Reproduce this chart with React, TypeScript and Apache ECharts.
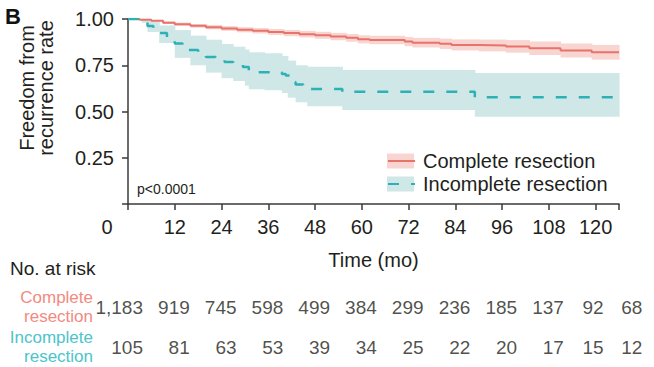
import React, { useEffect, useRef } from 'react';
import * as echarts from 'echarts';

// ---- data ----
const completeTimes = [0, 3, 6, 9, 12, 16, 20, 24, 28, 32, 36, 40, 44, 48, 52, 56, 59, 62, 71, 73, 80, 83, 90, 97, 103, 111, 119, 126];
const completeSurv = [1, 0.996, 0.99, 0.98, 0.972, 0.963, 0.956, 0.949, 0.942, 0.936, 0.93, 0.924, 0.918, 0.912, 0.905, 0.898, 0.89, 0.886, 0.878, 0.872, 0.866, 0.86, 0.857, 0.852, 0.842, 0.83, 0.82, 0.82];
const completeLower = [1, 0.993, 0.985, 0.973, 0.963, 0.953, 0.944, 0.936, 0.928, 0.921, 0.914, 0.907, 0.9, 0.893, 0.885, 0.877, 0.868, 0.863, 0.853, 0.846, 0.838, 0.83, 0.825, 0.818, 0.806, 0.792, 0.78, 0.78];
const completeUpper = [1, 0.999, 0.995, 0.987, 0.981, 0.973, 0.968, 0.962, 0.956, 0.951, 0.946, 0.941, 0.936, 0.931, 0.925, 0.919, 0.912, 0.909, 0.903, 0.898, 0.894, 0.89, 0.889, 0.886, 0.878, 0.868, 0.86, 0.86];

const incompleteTimes = [0, 3.5, 5, 6.5, 8, 10, 12, 14, 15.6, 18, 20, 22.5, 24.8, 27, 29.5, 31, 39.5, 40.5, 41.8, 43, 45, 46, 55, 89, 126];
const incompleteSurv = [1, 0.99, 0.962, 0.943, 0.924, 0.895, 0.868, 0.85, 0.832, 0.812, 0.795, 0.78, 0.767, 0.755, 0.74, 0.712, 0.703, 0.695, 0.66, 0.646, 0.632, 0.622, 0.607, 0.577, 0.577];
const incompleteBandTimes = [0, 3.5, 5, 8, 12, 16, 20, 24, 27, 30, 31, 35, 39.5, 41, 43, 46, 55, 89, 126];
const incompleteUpper = [1, 1, 0.99, 0.965, 0.94, 0.91, 0.888, 0.865, 0.85, 0.835, 0.82, 0.815, 0.8, 0.775, 0.75, 0.742, 0.724, 0.708, 0.708];
const incompleteLower = [1, 0.98, 0.93, 0.87, 0.79, 0.75, 0.71, 0.68, 0.665, 0.64, 0.62, 0.615, 0.6, 0.575, 0.55, 0.528, 0.508, 0.472, 0.472];

const groupNames = ['Complete resection', 'Incomplete resection'];
const riskTimes = [0, 12, 24, 36, 48, 60, 72, 84, 96, 108, 120, 132];
const riskComplete = [1183, 919, 745, 598, 499, 384, 299, 236, 185, 137, 92, 68];
const riskIncomplete = [105, 81, 63, 53, 39, 34, 25, 22, 20, 17, 15, 12];

// ---- layout / style ----
const riskNudge = [15, 15, 15, 15, 15, 15, 15, 15, 15, 15, 8, 0];
const FONT = '"Liberation Sans", Arial, Helvetica, sans-serif';
const TEXT = '#231f20';
const AXIS = '#3a3a3a';
const RED = '#e8736b';
const RED_BAND = '#f9d5d1';
const TEAL = '#2eb1b5';
const TEAL_BAND = '#cfe7e6';
const RED_LABEL = '#f28a82';
const TEAL_LABEL = '#4cc4cb';

function bandData(times: number[], lo: number[], hi: number[]) {
  const out: number[][] = [];
  for (let i = 0; i < times.length - 1; i++) out.push([times[i], times[i + 1], lo[i], hi[i]]);
  return out;
}

const renderBand = (color: string) => (_params: any, api: any) => {
  const p1 = api.coord([api.value(0), api.value(3)]);
  const p2 = api.coord([api.value(1), api.value(2)]);
  return {
    type: 'rect',
    shape: { x: p1[0], y: p1[1], width: p2[0] - p1[0] + 0.6, height: Math.max(0, p2[1] - p1[1]) },
    style: { fill: color },
  };
};

function riskSeries(values: number[], row: number) {
  return {
    type: 'scatter',
    xAxisIndex: 1,
    yAxisIndex: 1,
    symbolSize: 2,
    itemStyle: { color: 'rgba(255,255,255,0)' },
    clip: false,
    silent: true,
    z: 5,
    data: riskTimes.map((t, i) => ({ value: [t, row], label: { offset: [riskNudge[i], 0] } })),
    label: {
      show: true,
      position: 'inside',
      align: 'right',
      verticalAlign: 'middle',
      fontFamily: FONT,
      fontSize: 19,
      color: TEXT,
      formatter: (p: any) => values[p.dataIndex].toLocaleString('en-US'),
    },
  };
}

export default function App() {
  const ref = useRef<HTMLDivElement>(null);
  useEffect(() => {
    document.body.style.margin = '0';
    const chart = echarts.init(ref.current!, null, { renderer: 'svg' });
    const axisLineStyle = { color: AXIS, width: 1.5 };
    chart.setOption({
      animation: false,
      backgroundColor: '#ffffff',
      textStyle: { fontFamily: FONT },
      grid: [
        { left: 128, top: 19, width: 491, height: 185 },
        { left: 128, top: 287, width: 491, height: 83 },
      ],
      xAxis: [
        {
          type: 'value',
          gridIndex: 0,
          min: 0,
          max: 126,
          interval: 12,
          splitLine: { show: false },
          axisLine: { lineStyle: axisLineStyle },
          axisTick: { length: 6, lineStyle: axisLineStyle },
          axisLabel: {
            fontFamily: FONT,
            fontSize: 20,
            color: TEXT,
            margin: 13,
            formatter: (v: number) => (v === 0 ? '{z|0}' : v > 120 ? '' : String(v)),
            rich: { z: { padding: [0, 42, 0, 0], fontFamily: FONT, fontSize: 20, color: TEXT } },
          },
          name: 'Time (mo)',
          nameLocation: 'middle',
          nameGap: 46,
          nameTextStyle: { fontFamily: FONT, fontSize: 20, color: TEXT },
        },
        { type: 'value', gridIndex: 1, min: 0, max: 126, show: false },
      ],
      yAxis: [
        {
          type: 'value',
          gridIndex: 0,
          min: 0,
          max: 1,
          interval: 0.25,
          splitLine: { show: false },
          axisLine: { show: true, lineStyle: axisLineStyle },
          axisTick: { show: true, length: 6, lineStyle: axisLineStyle },
          axisLabel: {
            fontFamily: FONT,
            fontSize: 20,
            color: TEXT,
            margin: 14,
            formatter: (v: number) => (v === 0 ? '' : v.toFixed(2)),
          },
        },
        {
          type: 'category',
          gridIndex: 1,
          inverse: true,
          data: groupNames,
          axisLine: { show: false },
          axisTick: { show: false },
          axisLabel: {
            margin: 35,
            formatter: (_v: string, i: number) =>
              i === 0 ? '{a|Complete}\n{a|resection}' : '{b|Incomplete}\n{b|resection}',
            rich: {
              a: { color: RED_LABEL, fontFamily: FONT, fontSize: 17, lineHeight: 19.6, align: 'right' },
              b: { color: TEAL_LABEL, fontFamily: FONT, fontSize: 17, lineHeight: 19.6, align: 'right' },
            },
          },
        },
      ],
      legend: [
        {
          data: [
            { name: 'Complete resection band', icon: 'rect' },
            { name: 'Incomplete resection band', icon: 'rect' },
          ],
          orient: 'vertical',
          left: 387,
          top: 151,
          itemWidth: 27,
          itemHeight: 15,
          itemGap: 3,
          padding: 0,
          selectedMode: false,
          formatter: () => ' ',
          textStyle: { fontFamily: FONT, fontSize: 20, color: TEXT },
          z: 3,
        },
        {
          data: groupNames,
          orient: 'vertical',
          left: 387,
          top: 151,
          itemWidth: 27,
          itemHeight: 15,
          itemGap: 3,
          padding: 0,
          selectedMode: false,
          itemStyle: { opacity: 0 },
          textStyle: { fontFamily: FONT, fontSize: 20, color: TEXT, padding: [0, 0, 0, 3] },
          z: 5,
        },
      ],
      graphic: [
        { type: 'text', left: 5, top: 5, style: { text: 'B', font: `bold 22px ${FONT}`, fill: '#111' } },
        {
          type: 'text',
          x: 36,
          y: 88,
          rotation: Math.PI / 2,
          style: {
            text: 'Freedom from\nrecurrence rate',
            font: `20px ${FONT}`,
            lineHeight: 19,
            fill: TEXT,
            align: 'center',
            verticalAlign: 'middle',
          },
        },
        { type: 'text', x: 137, y: 189, style: { text: 'p<0.0001', font: `14px ${FONT}`, fill: TEXT, verticalAlign: 'middle' } },
        { type: 'text', x: 10, y: 268, style: { text: 'No. at risk', font: `19px ${FONT}`, fill: TEXT, verticalAlign: 'middle' } },
      ],
      series: [
        {
          name: 'Complete resection band',
          type: 'custom',
          xAxisIndex: 0,
          yAxisIndex: 0,
          silent: true,
          z: 1,
          itemStyle: { color: RED_BAND },
          renderItem: renderBand(RED_BAND),
          encode: { x: [0, 1], y: [2, 3] },
          data: bandData(completeTimes, completeLower, completeUpper),
        },
        {
          name: 'Incomplete resection band',
          type: 'custom',
          xAxisIndex: 0,
          yAxisIndex: 0,
          silent: true,
          z: 1,
          itemStyle: { color: TEAL_BAND },
          renderItem: renderBand(TEAL_BAND),
          encode: { x: [0, 1], y: [2, 3] },
          data: bandData(incompleteBandTimes, incompleteLower, incompleteUpper),
        },
        {
          name: 'Complete resection',
          type: 'line',
          step: 'end',
          symbol: 'none',
          z: 3,
          itemStyle: { color: RED },
          lineStyle: { color: RED, width: 2 },
          data: completeTimes.map((t, i) => [t, completeSurv[i]]),
        },
        {
          name: 'Incomplete resection',
          type: 'line',
          step: 'end',
          symbol: 'none',
          z: 4,
          itemStyle: { color: TEAL },
          lineStyle: { color: TEAL, width: 2.5, type: [11, 12] },
          data: incompleteTimes.map((t, i) => [t, incompleteSurv[i]]),
        },
        riskSeries(riskComplete, 0),
        riskSeries(riskIncomplete, 1),
      ],
    });
    return () => chart.dispose();
  }, []);
  return <div ref={ref} style={{ width: 654, height: 367 }} />;
}
